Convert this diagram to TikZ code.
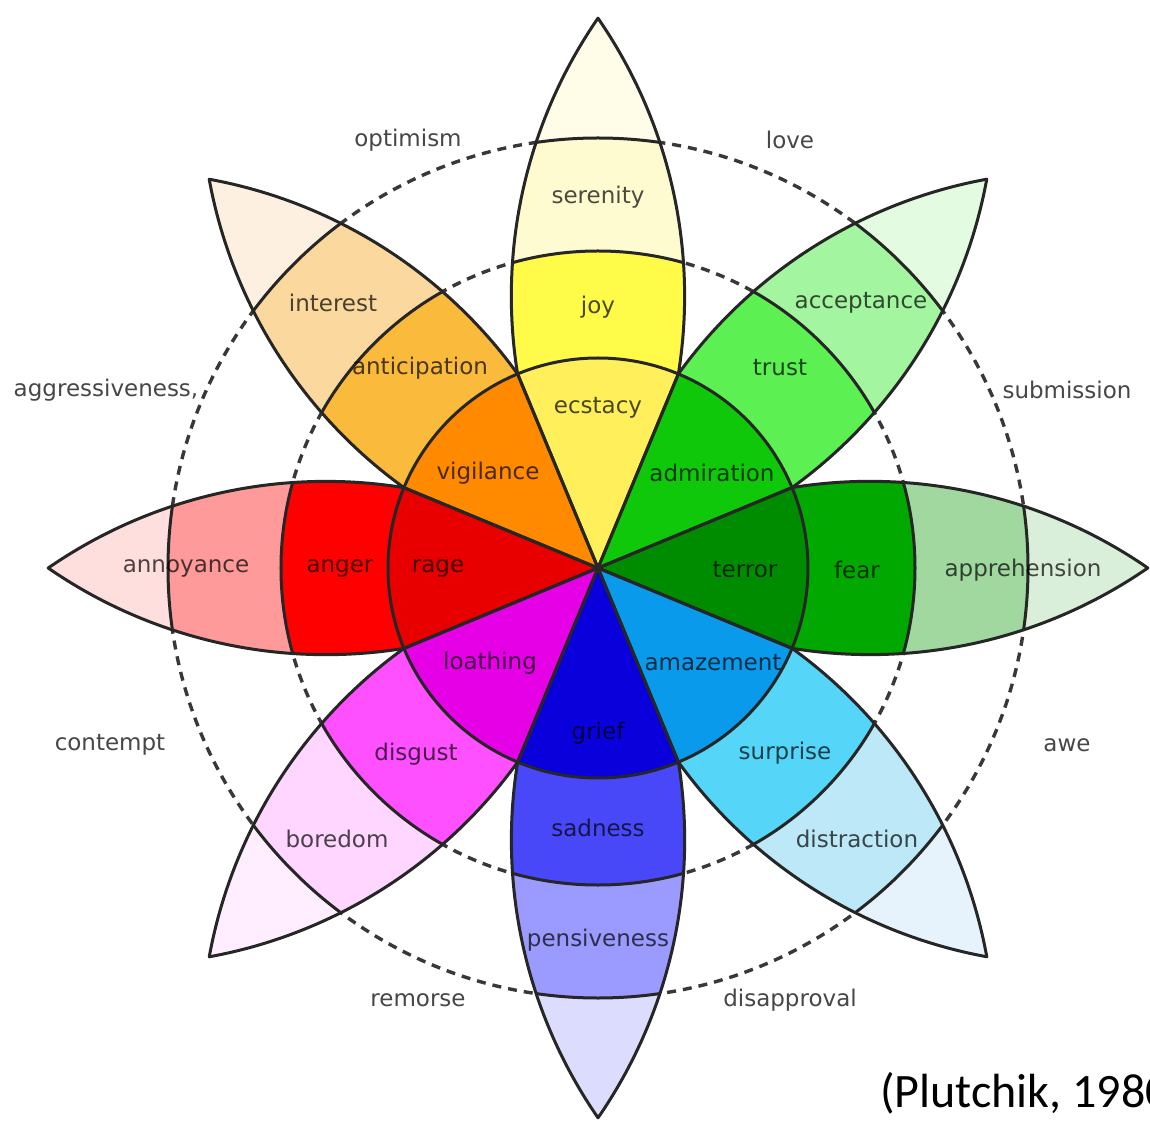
\documentclass[tikz,border=0pt]{standalone}
\usepackage{fontspec}
\setmainfont{DejaVu Sans}
\newfontfamily\calibrifont{Carlito}
\definecolor{yTip}{HTML}{FFFDE8}\definecolor{yOut}{HTML}{FFFBD0}\definecolor{yMid}{HTML}{FFFB48}\definecolor{yIn}{HTML}{FFEF5A}
\definecolor{gTip}{HTML}{E3FBE0}\definecolor{gOut}{HTML}{A4F5A0}\definecolor{gMid}{HTML}{5CF053}\definecolor{gIn}{HTML}{10C80A}
\definecolor{dTip}{HTML}{DAEFD9}\definecolor{dOut}{HTML}{A0D8A0}\definecolor{dMid}{HTML}{00A800}\definecolor{dIn}{HTML}{008C00}
\definecolor{cTip}{HTML}{E6F3FD}\definecolor{cOut}{HTML}{BCE8F8}\definecolor{cMid}{HTML}{55D5F8}\definecolor{cIn}{HTML}{0A9AEB}
\definecolor{bTip}{HTML}{DCDCFF}\definecolor{bOut}{HTML}{9A9AFF}\definecolor{bMid}{HTML}{4848F8}\definecolor{bIn}{HTML}{0A00DC}
\definecolor{mTip}{HTML}{FFEEFF}\definecolor{mOut}{HTML}{FFD6FF}\definecolor{mMid}{HTML}{FF50FF}\definecolor{mIn}{HTML}{E600E6}
\definecolor{rTip}{HTML}{FFDEDE}\definecolor{rOut}{HTML}{FF9A9A}\definecolor{rMid}{HTML}{FF0000}\definecolor{rIn}{HTML}{E80000}
\definecolor{oTip}{HTML}{FDF0E0}\definecolor{oOut}{HTML}{FAD89E}\definecolor{oMid}{HTML}{FABA3C}\definecolor{oIn}{HTML}{FF8A00}
\newcommand\plpetal[5]{%
  \begin{scope}[rotate=#1]
    \fill[#5, petalshape];
    \begin{scope}
      \clip[petalshape];
      \fill[#4] (0,0) circle[radius=430pt];
      \fill[#3] (0,0) circle[radius=317pt];
      \fill[#2] (0,0) circle[radius=210pt];
    \end{scope}
  \end{scope}}
\begin{document}
\begin{tikzpicture}[x=1pt,y=1pt,
  petalshape/.style={insert path={(0,0) -- (80.36,194.02) arc[start angle=-9.18, end angle=34.64, radius=488.8pt] arc[start angle=145.36, end angle=189.18, radius=488.8pt] -- cycle}},
  edge/.style={draw=black!85, line width=3pt, line join=round},
  dashring/.style={draw=black!78, line width=3.4pt, dash pattern=on 9pt off 7pt},
  lab/.style={font=\fontsize{23}{26}\selectfont, text=black, text opacity=0.7, inner sep=0pt},
  outlab/.style={font=\fontsize{23}{26}\selectfont, text=black!72, inner sep=0pt}]
\fill[white] (-598,-553) rectangle (552,568);
\useasboundingbox (-598,-553) rectangle (552,568);
% dashed rings
\draw[dashring] (0,0) circle[radius=317pt];
\draw[dashring] (0,0) circle[radius=430pt];
% petals
\plpetal{0}{yIn}{yMid}{yOut}{yTip}
\plpetal{-45}{gIn}{gMid}{gOut}{gTip}
\plpetal{-90}{dIn}{dMid}{dOut}{dTip}
\plpetal{-135}{cIn}{cMid}{cOut}{cTip}
\plpetal{180}{bIn}{bMid}{bOut}{bTip}
\plpetal{135}{mIn}{mMid}{mOut}{mTip}
\plpetal{90}{rIn}{rMid}{rOut}{rTip}
\plpetal{45}{oIn}{oMid}{oOut}{oTip}
% edges
\foreach \r in {0,45,...,315} {
  \begin{scope}[rotate=\r]
    \begin{scope}
      \clip[petalshape];
      \draw[edge] (0,0) circle[radius=430pt] (0,0) circle[radius=317pt];
    \end{scope}
    \draw[edge, petalshape];
  \end{scope}}
\draw[edge] (0,0) circle[radius=210pt];
% petal labels
\node[lab] (ecstacy) at (0,160) {ecstacy};
\node[lab] (joy) at (0,261) {joy};
\node[lab] (serenity) at (0,371) {serenity};
\node[lab] (admiration) at (114,95) {admiration};
\node[lab] (trust) at (182,200) {trust};
\node[lab] (acceptance) at (263,265) {acceptance};
\node[lab] (terror) at (147,-2) {terror};
\node[lab] (fear) at (259,-2) {fear};
\node[lab] (apprehension) at (425,-2) {apprehension};
\node[lab] (amazement) at (115,-95) {amazement};
\node[lab] (surprise) at (187,-185) {surprise};
\node[lab] (distraction) at (259,-271) {distraction};
\node[lab] (grief) at (0,-165) {grief};
\node[lab] (sadness) at (0,-260) {sadness};
\node[lab] (pensiveness) at (0,-372) {pensiveness};
\node[lab] (loathing) at (-108,-95) {loathing};
\node[lab] (disgust) at (-182,-186) {disgust};
\node[lab] (boredom) at (-261,-271) {boredom};
\node[lab] (rage) at (-160,0) {rage};
\node[lab] (anger) at (-258,0) {anger};
\node[lab] (annoyance) at (-412,0) {annoyance};
\node[lab] (vigilance) at (-110,95) {vigilance};
\node[lab] (anticipation) at (-178,200) {anticipation};
\node[lab] (interest) at (-265,265) {interest};
% outer labels
\node[outlab] (optimism) at (-190,428) {optimism};
\node[outlab] (love) at (192,428) {love};
\node[outlab] (aggressiveness) at (-492,178) {aggressiveness,};
\node[outlab] (submission) at (469,178) {submission};
\node[outlab] (contempt) at (-488,-177) {contempt};
\node[outlab] (awe) at (469,-177) {awe};
\node[outlab] (remorse) at (-180,-432) {remorse};
\node[outlab] (disapproval) at (192,-432) {disapproval};
\node[anchor=base west, inner sep=0pt, font=\calibrifont\fontsize{48}{58}\selectfont] (cite) at (282,-539) {(Plutchik, 1980)};
\end{tikzpicture}
\end{document}
